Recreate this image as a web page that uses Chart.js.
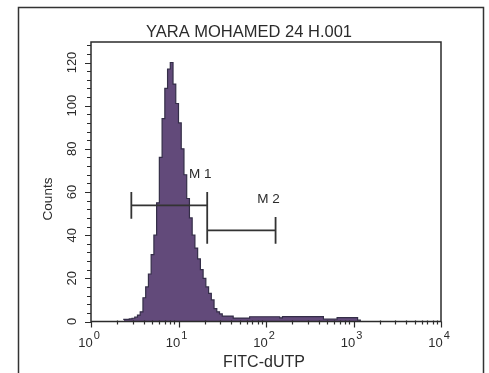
<!DOCTYPE html>
<html>
<head>
<meta charset="utf-8">
<script src="https://cdn.jsdelivr.net/npm/chart.js@4.4.1/dist/chart.umd.min.js"></script>
<style>
  html, body { margin: 0; padding: 0; background: #fff; }
  #wrap { width: 489px; height: 373px; }
</style>
</head>
<body>
<div id="wrap"><canvas id="histo" width="489" height="373"></canvas></div>
<script>
const TITLE = "YARA MOHAMED 24 H.001";
const X_LABEL = "FITC-dUTP";
const Y_LABEL = "Counts";
const CH_PER_DECADE = 64;
const decadeExponents = [0, 1, 2, 3, 4];
const yTickLabels = [0, 20, 40, 60, 80, 100, 120];

// histogram bins: left edge in channels (64 per decade), count in that bin
const channelStart = [24, 26, 28, 30, 32, 34, 36, 38, 40, 42, 44, 46, 48, 50, 52, 54, 56, 58, 60, 62,
  64, 66, 68, 70, 72, 74, 76, 78, 80, 82, 84, 86, 88, 90, 92, 94, 96, 104, 116, 138,
  140, 170, 180, 195, 197, 200];
const binCount = [0.7, 1, 1, 1.2, 1.5, 2, 3, 4.5, 11, 16, 22, 31, 40, 55, 76, 94, 108, 117, 120, 110,
  101, 92, 80, 68, 57, 48, 40, 34, 29, 24, 20, 16, 13, 10, 6, 4.5, 3.5, 2.5, 1.6, 2.2,
  1.7, 2.3, 1.1, 1.8, 0.6, 0];

// marker gates
const gateNames = ["M1", "M2"];
const gateStart = [29.5, 85];
const gateEnd = [85, 135];
const gateLevel = [53.8, 42.2];

function gatePoints() {
  const pts = [];
  gateNames.forEach((name, i) => {
    const h = 6.2;
    pts.push({ x: gateStart[i], y: gateLevel[i] }, { x: gateEnd[i], y: gateLevel[i] }, { x: gateEnd[i], y: null });
    pts.push({ x: gateStart[i], y: gateLevel[i] + h }, { x: gateStart[i], y: gateLevel[i] - h }, { x: gateStart[i], y: null });
    pts.push({ x: gateEnd[i], y: gateLevel[i] + h }, { x: gateEnd[i], y: gateLevel[i] - h }, { x: gateEnd[i], y: null });
  });
  return pts;
}

const FONT = "'Liberation Sans', Arial, Helvetica, sans-serif";
const INK = "#2b2b2b";

const decorPlugin = {
  id: "decor",
  afterDraw(chart) {
    const ctx = chart.ctx;
    const { left, top, right, bottom } = chart.chartArea;
    const xs = chart.scales.x;
    const ys = chart.scales.y;
    ctx.save();

    // outer frame (bottom is off the picture)
    ctx.strokeStyle = "#333";
    ctx.lineWidth = 1.5;
    ctx.beginPath();
    ctx.moveTo(18.5, 373);
    ctx.lineTo(18.5, 7.5);
    ctx.lineTo(483.5, 7.5);
    ctx.lineTo(483.5, 373);
    ctx.stroke();

    // plot box
    ctx.strokeStyle = INK;
    ctx.lineWidth = 1.5;
    ctx.strokeRect(left, top, right - left, bottom - top);

    // y ticks
    ctx.lineWidth = 1.2;
    ctx.beginPath();
    for (let v = 0; v <= 128; v += 4) {
      const y = Math.round(ys.getPixelForValue(v)) + 0.5;
      const len = v % 20 === 0 ? 6 : 4;
      ctx.moveTo(left - len, y);
      ctx.lineTo(left, y);
    }
    // x ticks
    for (let d = 0; d < 4; d++) {
      for (let k = 1; k <= 9; k++) {
        const x = Math.round(xs.getPixelForValue((d + Math.log10(k)) * CH_PER_DECADE)) + 0.5;
        const len = k === 1 ? 6 : 3;
        ctx.moveTo(x, bottom - (k === 1 ? 0 : 1));
        ctx.lineTo(x, bottom + len);
      }
    }
    const xEnd = Math.round(xs.getPixelForValue(4 * CH_PER_DECADE)) + 0.5;
    ctx.moveTo(xEnd, bottom);
    ctx.lineTo(xEnd, bottom + 6);
    ctx.stroke();

    ctx.fillStyle = INK;

    // y tick labels, rotated
    ctx.font = "13px " + FONT;
    ctx.textAlign = "center";
    ctx.textBaseline = "middle";
    yTickLabels.forEach((v) => {
      ctx.save();
      ctx.translate(left - 19, ys.getPixelForValue(v));
      ctx.rotate(-Math.PI / 2);
      ctx.fillText(String(v), 0, 0);
      ctx.restore();
    });

    // x tick labels 10^n
    decadeExponents.forEach((e) => {
      const x = xs.getPixelForValue(e * CH_PER_DECADE);
      ctx.font = "13px " + FONT;
      const wBase = ctx.measureText("10").width;
      ctx.font = "11px " + FONT;
      const wExp = ctx.measureText(String(e)).width;
      const x0 = x - (wBase + 1 + wExp) / 2 - 2;
      ctx.textAlign = "left";
      ctx.textBaseline = "alphabetic";
      ctx.font = "13px " + FONT;
      ctx.fillText("10", x0, 347);
      ctx.font = "11px " + FONT;
      ctx.fillText(String(e), x0 + wBase + 1, 339);
    });

    // title and axis titles
    ctx.textAlign = "center";
    ctx.textBaseline = "middle";
    ctx.font = "16.5px " + FONT;
    ctx.fillText(TITLE, 249, 32);
    ctx.font = "16px " + FONT;
    ctx.fillText(X_LABEL, 264, 363);
    ctx.save();
    ctx.translate(48, 199);
    ctx.rotate(-Math.PI / 2);
    ctx.font = "13.5px " + FONT;
    ctx.fillText(Y_LABEL, 0, 0);
    ctx.restore();

    // gate names
    ctx.font = "13.5px " + FONT;
    gateNames.forEach((name, i) => {
      const x = xs.getPixelForValue(gateEnd[i]) - 7;
      const y = ys.getPixelForValue(gateLevel[i]) - 31;
      ctx.fillText(name.split("").join(" "), x, y);
    });

    ctx.restore();
  },
};

new Chart(document.getElementById("histo"), {
  type: "line",
  data: {
    datasets: [
      {
        label: "histogram",
        data: channelStart.map((c, i) => ({ x: c, y: binCount[i] })),
        stepped: "after",
        fill: "origin",
        backgroundColor: "rgb(98, 74, 122)",
        borderColor: "rgb(52, 46, 72)",
        borderWidth: 1.2,
        pointRadius: 0,
        order: 2,
      },
      {
        label: "gates",
        data: gatePoints(),
        borderColor: "#333",
        borderWidth: 1.8,
        pointRadius: 0,
        spanGaps: false,
        fill: false,
        order: 1,
      },
    ],
  },
  options: {
    responsive: false,
    animation: false,
    devicePixelRatio: 1,
    layout: { padding: { left: 91, top: 42, right: 48, bottom: 51.5 } },
    plugins: { legend: { display: false }, tooltip: { enabled: false } },
    scales: {
      x: { type: "linear", min: 0, max: 4 * CH_PER_DECADE, display: false },
      y: { type: "linear", min: 0, max: 129.5, display: false },
    },
  },
  plugins: [decorPlugin],
});
</script>
</body>
</html>
